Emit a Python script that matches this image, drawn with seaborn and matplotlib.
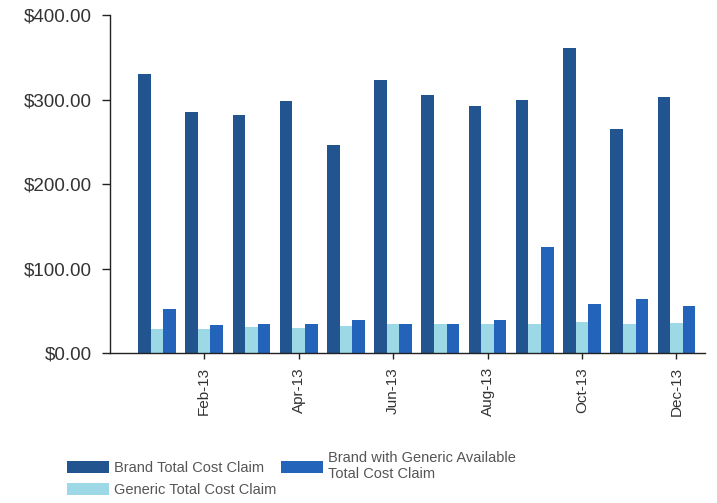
import matplotlib
matplotlib.use("Agg")
import matplotlib.pyplot as plt
import seaborn as sns
import pandas as pd

months = ["Jan-13", "Feb-13", "Mar-13", "Apr-13", "May-13", "Jun-13",
          "Jul-13", "Aug-13", "Sep-13", "Oct-13", "Nov-13", "Dec-13"]
brand_total = [330, 285, 282, 298, 246, 323, 305, 293, 299, 361, 265, 303]
generic_total = [29, 29, 31, 30, 32, 34, 34, 35, 35, 37, 35, 36]
brand_with_generic = [52, 33, 35, 34, 39, 35, 35, 39, 125, 58, 64, 56]
series_names = ["Brand Total Cost Claim", "Generic Total Cost Claim",
                "Brand with Generic Available\nTotal Cost Claim"]
colors = ["#22548f", "#9dd8e6", "#2463ba"]
y_ticks = [0, 100, 200, 300, 400]
y_labels = ["$0.00", "$100.00", "$200.00", "$300.00", "$400.00"]
shown_months = ["Feb-13", "Apr-13", "Jun-13", "Aug-13", "Oct-13", "Dec-13"]

df = pd.DataFrame({
    "Month": months * 3,
    "Value": brand_total + generic_total + brand_with_generic,
    "Series": [series_names[0]] * 12 + [series_names[1]] * 12 + [series_names[2]] * 12,
})

sns.set_style("white")
plt.rcParams["font.family"] = ["Liberation Sans", "DejaVu Sans"]

fig = plt.figure(figsize=(7.17, 5.03), dpi=100)
ax = fig.add_axes([0.153, 0.298, 0.83, 0.672])

sns.barplot(data=df, x="Month", y="Value", hue="Series", order=months,
            hue_order=series_names, palette=colors, width=0.8,
            saturation=1, linewidth=0, ax=ax, legend=True)

ax.set_ylim(0, 400)
ax.set_xlim(-1.0, 11.6)
ax.set_yticks(y_ticks)
ax.set_yticklabels(y_labels, fontsize=13.5, color="#333333")
ax.set_xticks([months.index(m) for m in shown_months])
ax.set_xticklabels(shown_months, rotation=90, fontsize=11, color="#333333")
ax.set_xlabel("")
ax.set_ylabel("")

for side in ["top", "right"]:
    ax.spines[side].set_visible(False)
for side in ["left", "bottom"]:
    ax.spines[side].set_color("#222222")
    ax.spines[side].set_linewidth(1.0)
ax.tick_params(axis="y", left=True, direction="out", length=6, width=1,
               color="#222222", pad=7)
ax.tick_params(axis="x", bottom=True, direction="out", length=4, width=1,
               color="#222222", pad=6)

handles, labels = ax.get_legend_handles_labels()
ax.get_legend().remove()
fig.legend(handles, labels, loc="upper left", bbox_to_anchor=(0.075, 0.129),
           ncol=2, frameon=False, fontsize=10.5, handlelength=2.9, handleheight=0.9,
           columnspacing=0.3, labelspacing=0.55, handletextpad=0.35,
           labelcolor="#555555")

fig.savefig("out.png", dpi=100)
